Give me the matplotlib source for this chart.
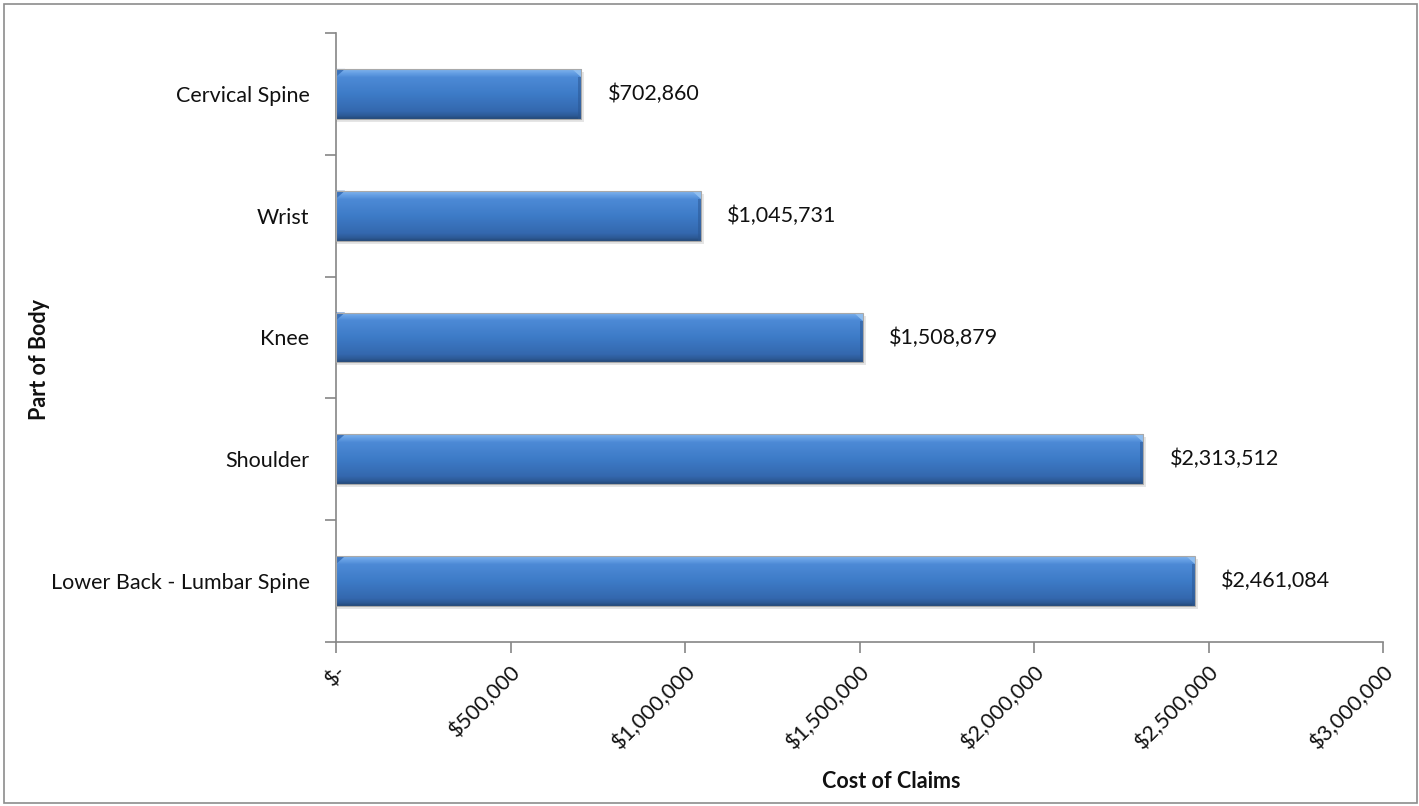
import matplotlib
matplotlib.use("Agg")
import matplotlib.pyplot as plt
import numpy as np
from matplotlib.patches import Rectangle, Polygon
from matplotlib.colors import to_rgb

categories = ["Lower Back - Lumbar Spine", "Shoulder", "Knee", "Wrist", "Cervical Spine"]
costs = [2461084, 2313512, 1508879, 1045731, 702860]
x_ticks = [0, 500000, 1000000, 1500000, 2000000, 2500000, 3000000]
x_tick_labels = ["$-", "$500,000", "$1,000,000", "$1,500,000", "$2,000,000", "$2,500,000", "$3,000,000"]

plt.rcParams['font.family'] = ['Lato', 'DejaVu Sans']
FS = 15.5

fig = plt.figure(figsize=(14.19, 8.06), dpi=100)
ax = fig.add_axes([336/1419, 1-642/806, (1383-336)/1419, (642-33)/806])

# figure border
fig.patches.append(Rectangle((4/1419, 3/806), 1413/1419, 799/806, transform=fig.transFigure,
                             fill=False, edgecolor='#8c8c8c', linewidth=1.2))

y = np.arange(len(categories))
bar_h = 0.41
bars = ax.barh(y, costs, height=bar_h, color='#3b76c2', edgecolor='none', zorder=2)

# vertical gradient colours (top -> bottom)
stops = [(0.0, '#7fb2ec'), (0.06, '#6aa3e6'), (0.16, '#4d8ad6'), (0.5, '#3d7bc7'),
         (0.85, '#3468ae'), (0.95, '#2c5893'), (1.0, '#234878')]
N = 64
pos = np.linspace(0, 1, N)
cols = np.zeros((N, 1, 3))
for c in range(3):
    cols[:, 0, c] = np.interp(pos, [s[0] for s in stops], [to_rgb(s[1])[c] for s in stops])

xmax = 3000000
px_x = xmax / 1047.0
px_y = 5.0 / 609.0

for b in bars:
    x0, y0 = b.get_x(), b.get_y()
    w, h = b.get_width(), b.get_height()
    # shadow
    ax.add_patch(Rectangle((x0, y0 - 3*px_y), w + 3*px_x, h, facecolor='#000000', alpha=0.10,
                           edgecolor='none', zorder=1))
    im = ax.imshow(cols, extent=[x0, x0 + w, y0, y0 + h], aspect='auto', origin='upper',
                   zorder=3, interpolation='bilinear')
    im.set_clip_path(b)
    bev = 9 * px_x
    # right bevel: light triangle at top-right, darker strip on right edge
    ax.add_patch(Polygon([(x0 + w - bev, y0 + h), (x0 + w, y0 + h), (x0 + w, y0 + h - 0.16*h)],
                         closed=True, facecolor='#8fbef0', edgecolor='none', zorder=4))
    ax.add_patch(Polygon([(x0 + w - 3*px_x, y0 + h - 0.16*h), (x0 + w, y0 + h - 0.16*h),
                          (x0 + w, y0), (x0 + w - 3*px_x, y0)],
                         closed=True, facecolor='#2a5590', edgecolor='none', alpha=0.5, zorder=4))
    # left bevel
    ax.add_patch(Polygon([(x0, y0 + h), (x0 + bev, y0 + h), (x0, y0 + h - 0.16*h)],
                         closed=True, facecolor='#3a72bb', edgecolor='none', zorder=4))
    ax.add_patch(Rectangle((x0, y0), w, h, fill=False, edgecolor='#a9a9a9', linewidth=0.8, zorder=5))

for yi, v in zip(y, costs):
    ax.annotate(f"${v:,}", xy=(v, yi), xytext=(19, 0), textcoords='offset points',
                va='center', ha='left', fontsize=FS, color='#111111')

ax.set_xlim(0, xmax)
ax.set_ylim(-0.5, len(categories) - 0.5)
ax.set_yticks(np.arange(-0.5, len(categories), 1.0))
ax.set_yticklabels([])
ax.set_yticks(y, minor=True)
ax.set_yticklabels(categories, minor=True, fontsize=FS, color='#111111')
ax.tick_params(axis='y', which='minor', length=0, pad=19)
ax.tick_params(axis='y', which='major', length=8, color='#868686', width=1.2)

ax.set_xticks(x_ticks)
ax.set_xticklabels(x_tick_labels, rotation=45, ha='right', rotation_mode='anchor',
                   fontsize=FS, color='#111111')
ax.tick_params(axis='x', length=8, color='#868686', width=1.2, pad=6)

for s in ['top', 'right']:
    ax.spines[s].set_visible(False)
for s in ['left', 'bottom']:
    ax.spines[s].set_color('#868686')
    ax.spines[s].set_linewidth(1.2)

ax.set_xlabel("Cost of Claims", fontsize=FS, fontweight='bold', color='#111111')
ax.xaxis.label.set_va('center')
ax.xaxis.set_label_coords((891-336)/1047, -(781-642)/609)
ax.set_ylabel("Part of Body", fontsize=FS, fontweight='bold', color='#111111')
ax.yaxis.label.set_va('center')
ax.yaxis.set_label_coords(-(336-40)/1047, (642-360)/609)

fig.savefig("out.png", dpi=100)
